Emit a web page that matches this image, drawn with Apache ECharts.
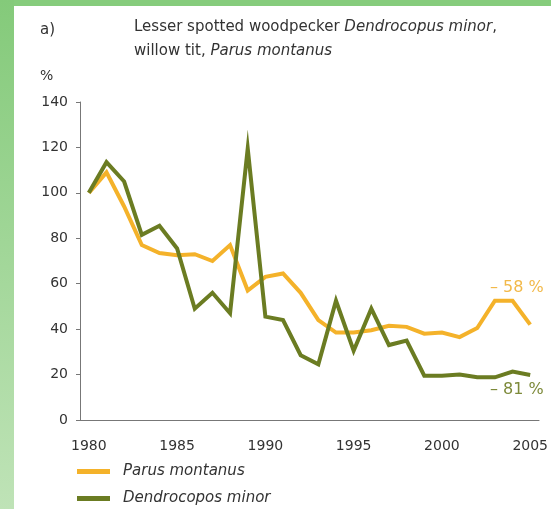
<!DOCTYPE html>
<html><head><meta charset="utf-8">
<script src="https://cdn.jsdelivr.net/npm/echarts@6/dist/echarts.min.js"></script>
<style>html,body{margin:0;padding:0;background:#fff}#c{width:551px;height:509px}</style>
</head><body><div id="c"></div>
<script>
const years = ['1980','1981','1982','1983','1984','1985','1986','1987','1988','1989','1990','1991','1992','1993','1994','1995','1996','1997','1998','1999','2000','2001','2002','2003','2004','2005'];
const parusMontanus = [100,109,94,77,73.5,72.5,73,70,77,57,63,64.5,56,44,38.5,38.5,39.5,41.5,41,38,38.5,36.5,40.5,52.5,52.5,42];
const dendrocoposMinor = [100,113.5,105,81.5,85.5,75.5,49,56,47,119.5,45.5,44,28.5,24.5,52.5,30.5,49,33,35,19.5,19.5,20,18.8,18.8,21.3,19.8];
const yTicks = [0,20,40,60,80,100,120,140];

const orange = '#f4b22a';
const olive = '#6b7c22';
const font = 'DejaVu Sans';
const chart = echarts.init(document.getElementById('c'));
chart.setOption({
  backgroundColor: '#ffffff',
  animation: false,
  textStyle: { fontFamily: font },
  graphic: [
    { type: 'rect', left: 0, top: 0, shape: { width: 551, height: 6 }, style: { fill: '#86cc7c' } },
    { type: 'rect', left: 0, top: 0, shape: { width: 14, height: 509 },
      style: { fill: new echarts.graphic.LinearGradient(0, 0, 0, 1, [
        { offset: 0, color: '#84ca7a' }, { offset: 1, color: '#bfe3b7' }]) } },
    { type: 'text', left: 40, top: 23, style: { text: 'a)', font: '15px "DejaVu Sans"', fill: '#333' } },
    { type: 'text', left: 134, top: 20, style: {
        text: '{n|Lesser spotted woodpecker }{i|Dendrocopus minor}{n|,}\n{n|willow tit, }{i|Parus montanus}',
        rich: {
          n: { font: '15px "DejaVu Sans"', fill: '#333', lineHeight: 24 },
          i: { font: 'italic 15px "DejaVu Sans"', fill: '#333', lineHeight: 24 }
        } } },
    { type: 'text', left: 40, top: 69, style: { text: '%', font: '14px "DejaVu Sans"', fill: '#333' } },
    { type: 'text', left: 490, top: 280, style: { text: '– 58 %', font: '16px "DejaVu Sans"', fill: '#f2b94a' } },
    { type: 'text', left: 490, top: 382, style: { text: '– 81 %', font: '16px "DejaVu Sans"', fill: '#7d8a3a' } }
  ],
  grid: { left: 80, right: 11, top: 102, bottom: 89, containLabel: false },
  legend: {
    orient: 'vertical', left: 77, top: 464, padding: 0, itemWidth: 33, itemHeight: 5, itemGap: 12,
    icon: 'rect',
    textStyle: { fontFamily: font, fontStyle: 'italic', fontSize: 15, color: '#333', padding: [0,0,0,8] },
    data: ['Parus montanus', 'Dendrocopos minor']
  },
  xAxis: {
    type: 'category', data: years, boundaryGap: true,
    axisLine: { lineStyle: { color: '#777', width: 1 } },
    axisTick: { interval: 0, length: 5, lineStyle: { color: '#555' } },
    axisLabel: { interval: 4, fontSize: 14, color: '#333', margin: 19, fontFamily: font },
    splitLine: { show: false }
  },
  yAxis: {
    type: 'value', min: 0, max: 140, interval: 20,
    axisLine: { show: true, lineStyle: { color: '#777', width: 1 } },
    axisTick: { show: true, length: 4, lineStyle: { color: '#777' } },
    axisLabel: { fontSize: 14, color: '#333', margin: 12, fontFamily: font,
      formatter: v => yTicks.includes(v) ? String(v) : '' },
    splitLine: { show: false }
  },
  series: [
    { name: 'Parus montanus', type: 'line', data: parusMontanus, symbol: 'none',
      lineStyle: { color: orange, width: 4, join: 'miter' }, itemStyle: { color: orange } },
    { name: 'Dendrocopos minor', type: 'line', data: dendrocoposMinor, symbol: 'none',
      lineStyle: { color: olive, width: 4, join: 'miter' }, itemStyle: { color: olive } }
  ]
});
</script></body></html>
